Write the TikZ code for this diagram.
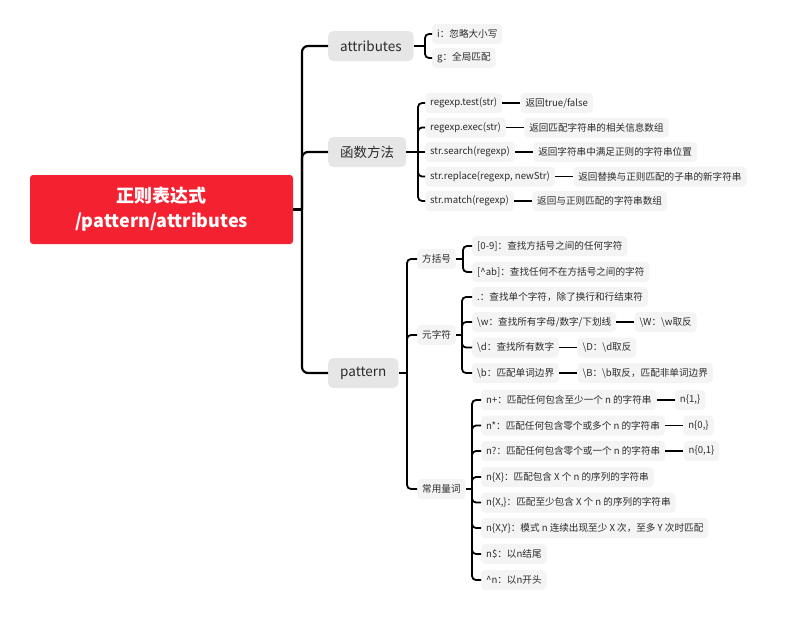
\documentclass[tikz,border=0pt]{standalone}
\usepackage{fontspec}
\setmainfont{Noto Sans CJK SC}
\usetikzlibrary{positioning}
\definecolor{rootred}{HTML}{F42231}
\definecolor{topicgray}{HTML}{E6E6E6}
\definecolor{leafgray}{HTML}{F4F4F4}
\definecolor{inkgray}{HTML}{2B2B2B}

\begin{document}
\begin{tikzpicture}[x = 1pt, y = -1pt,
		root/.style = {fill = rootred, rounded corners = 3pt, text = white, align = center,
			font = \fontsize{18}{25}\selectfont\bfseries, minimum width = 263pt, minimum height = 69pt},
		topic/.style = {fill = topicgray, rounded corners = 5pt, text = inkgray, anchor = west,
			font = \fontsize{13.5}{16}\selectfont, inner xsep = 12pt, minimum height = 30pt},
		leaf/.style = {fill = leafgray, rounded corners = 4pt, text = inkgray, anchor = west,
			font = \fontsize{9.6}{11}\selectfont, inner xsep = 5pt, minimum height = 20pt},
		trunk/.style = {line width = 2.2pt, rounded corners = 6pt},
		link/.style = {line width = 1.8pt, rounded corners = 4pt},
		tail/.style = {line width = 1.6pt}]
			\useasboundingbox (0,0) rectangle (800,621);
			
			\node[root] (regex) at (161.5, 209.5) {正则表达式\\/pattern/attributes};
			\node[topic] (attr) at (328, 46) {attributes};
			\node[topic] (func) at (328, 152) {函数方法};
			\node[topic] (pat) at (328, 373) {pattern};
			
			\coordinate (hub) at (302, 209.5);
			\draw[trunk] (regex.east) -- (hub);
			\draw[trunk] (hub) |- (attr.west);
			\draw[trunk] (hub) |- (func.west);
			\draw[trunk] (hub) |- (pat.west);
			
			% attributes
			\node[leaf] (ign) at (432, 34) {i：忽略大小写};
			\node[leaf] (glob) at (432, 58) {g：全局匹配};
			\coordinate (ahub) at (425, 46);
			\draw[link] (attr.east) -- (ahub);
			\draw[link] (ahub) |- (ign.west);
			\draw[link] (ahub) |- (glob.west);
			
			% 函数方法
			\node[leaf] (test) at (425, 103) {regexp.test(str)};
			\node[leaf, right = 18pt of test] (test-r) {返回true/false};
			\node[leaf] (exec) at (425, 127.5) {regexp.exec(str)};
			\node[leaf, right = 18pt of exec] (exec-r) {返回匹配字符串的相关信息数组};
			\node[leaf] (search) at (425, 152) {str.search(regexp)};
			\node[leaf, right = 18pt of search] (search-r) {返回字符串中满足正则的字符串位置};
			\node[leaf] (replace) at (425, 176.5) {str.replace(regexp, newStr)};
			\node[leaf, right = 18pt of replace] (replace-r) {返回替换与正则匹配的子串的新字符串};
			\node[leaf] (match) at (425, 201) {str.match(regexp)};
			\node[leaf, right = 18pt of match] (match-r) {返回与正则匹配的字符串数组};
			\coordinate (fhub) at (418, 152);
			\draw[link] (func.east) -- (fhub) -- (search.west);
			\draw[link] (fhub) |- (test.west);
			\draw[link] (fhub) |- (exec.west);
			\draw[link] (fhub) |- (replace.west);
			\draw[link] (fhub) |- (match.west);
			\draw[tail] (test.east) -- (test-r.west);
			\draw[tail] (exec.east) -- (exec-r.west);
			\draw[tail] (search.east) -- (search-r.west);
			\draw[tail] (replace.east) -- (replace-r.west);
			\draw[tail] (match.east) -- (match-r.west);
			
			% pattern
			\node[leaf] (brk) at (417, 259) {方括号};
			\node[leaf] (meta) at (417, 335) {元字符};
			\node[leaf] (quant) at (417, 489) {常用量词};
			\coordinate (phub) at (407, 373);
			\draw[link] (pat.east) -- (phub);
			\draw[link] (phub) |- (brk.west);
			\draw[link] (phub) |- (meta.west);
			\draw[link] (phub) |- (quant.west);
			
			\node[leaf] (digit) at (472, 246) {[0-9]：查找方括号之间的任何字符};
			\node[leaf] (notab) at (472, 272) {[\textasciicircum ab]：查找任何不在方括号之间的字符};
			\coordinate (bhub) at (463, 259);
			\draw[link] (brk.east) -- (bhub);
			\draw[link] (bhub) |- (digit.west);
			\draw[link] (bhub) |- (notab.west);
			
			\node[leaf] (dot) at (472, 297) {.：查找单个字符，除了换行和行结束符};
			\node[leaf] (word) at (472, 322) {\textbackslash w：查找所有字母/数字/下划线};
			\node[leaf, right = 18pt of word] (word-r) {\textbackslash W：\textbackslash w取反};
			\node[leaf] (num) at (472, 347.5) {\textbackslash d：查找所有数字};
			\node[leaf, right = 18pt of num] (num-r) {\textbackslash D：\textbackslash d取反};
			\node[leaf] (bound) at (472, 373) {\textbackslash b：匹配单词边界};
			\node[leaf, right = 18pt of bound] (bound-r) {\textbackslash B：\textbackslash b取反，匹配非单词边界};
			\coordinate (mhub) at (462, 335);
			\draw[link] (meta.east) -- (mhub);
			\draw[link] (mhub) |- (dot.west);
			\draw[link] (mhub) |- (word.west);
			\draw[link] (mhub) |- (num.west);
			\draw[link] (mhub) |- (bound.west);
			\draw[tail] (word.east) -- (word-r.west);
			\draw[tail] (num.east) -- (num-r.west);
			\draw[tail] (bound.east) -- (bound-r.west);
			
			\node[leaf] (plus) at (481, 400) {n+：匹配任何包含至少一个 n 的字符串};
			\node[leaf, right = 18pt of plus] (plus-r) {n\{1,\}};
			\node[leaf] (star) at (481, 425.5) {n*：匹配任何包含零个或多个 n 的字符串};
			\node[leaf, right = 18pt of star] (star-r) {n\{0,\}};
			\node[leaf] (qmark) at (481, 451) {n?：匹配任何包含零个或一个 n 的字符串};
			\node[leaf, right = 18pt of qmark] (qmark-r) {n\{0,1\}};
			\node[leaf] (exact) at (481, 477) {n\{X\}：匹配包含 X 个 n 的序列的字符串};
			\node[leaf] (least) at (481, 502.5) {n\{X,\}：匹配至少包含 X 个 n 的序列的字符串};
			\node[leaf] (range) at (481, 528) {n\{X,Y\}：模式 n 连续出现至少 X 次，至多 Y 次时匹配};
			\node[leaf] (ends) at (481, 554) {n\$：以n结尾};
			\node[leaf] (starts) at (481, 580) {\textasciicircum n：以n开头};
			\coordinate (qhub) at (472, 489);
			\draw[link] (quant.east) -- (qhub);
			\draw[link] (qhub) |- (plus.west);
			\draw[link] (qhub) |- (star.west);
			\draw[link] (qhub) |- (qmark.west);
			\draw[link] (qhub) |- (exact.west);
			\draw[link] (qhub) |- (least.west);
			\draw[link] (qhub) |- (range.west);
			\draw[link] (qhub) |- (ends.west);
			\draw[link] (qhub) |- (starts.west);
			\draw[tail] (plus.east) -- (plus-r.west);
			\draw[tail] (star.east) -- (star-r.west);
			\draw[tail] (qmark.east) -- (qmark-r.west);
		
		\end{tikzpicture}
\end{document}
